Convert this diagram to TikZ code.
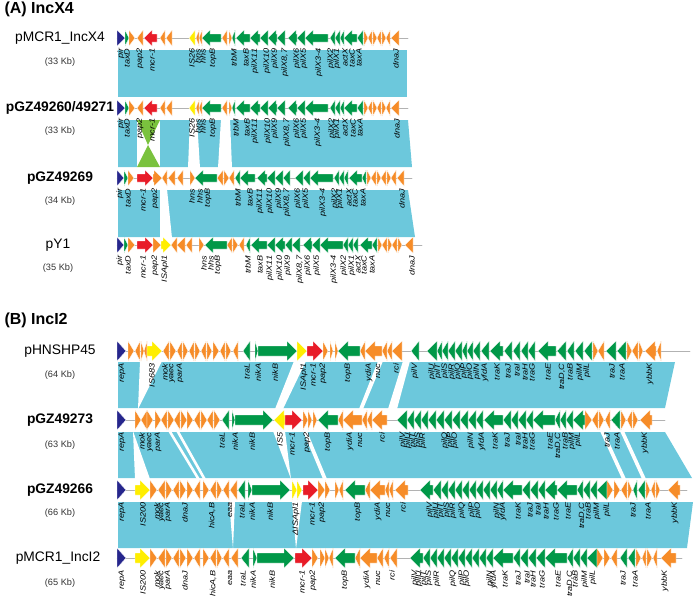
\documentclass[tikz,border=0pt]{standalone}
\usepackage{fontspec}
\setmainfont{Liberation Sans}
\usetikzlibrary{calc}
\definecolor{blu}{RGB}{108,200,220}
\definecolor{org}{RGB}{246,140,40}
\definecolor{grn}{RGB}{0,152,72}
\definecolor{rd}{RGB}{232,28,40}
\definecolor{nvy}{RGB}{38,38,140}
\definecolor{ylw}{RGB}{255,238,0}
\definecolor{lgr}{RGB}{122,194,62}
\tikzset{
    sect/.style={font=\fontsize{16}{19}\selectfont\bfseries},
    pname/.style={font=\fontsize{13.8}{16}\selectfont},
    pbold/.style={font=\fontsize{13.8}{16}\selectfont\bfseries},
    psize/.style={font=\fontsize{9.2}{11}\selectfont, text=black!80},
    glab/.style={font=\fontsize{7.6}{7.6}\selectfont\itshape, rotate=90, anchor=east, inner sep=0.4pt},
    trk/.style={draw=black!30, line width=0.5pt},
    gene/.style={draw=white, line width=0.3pt}
}
% gene arrow: y, from, to, colour, half height
\newcommand\gene[5]{%
    \pgfmathsetmacro\gd{(#3>#2) ? 1 : -1}%
    \pgfmathsetmacro\gh{min(abs(#3-#2),#5)}%
    \pgfmathsetmacro\gk{#3-\gd*\gh}%
    \path[gene, fill=#4] (#2,#1-#5/2) -- (\gk,#1-#5/2) -- (\gk,#1-#5) -- (#3,#1)
        -- (\gk,#1+#5) -- (\gk,#1+#5/2) -- (#2,#1+#5/2) -- cycle;%
}

\begin{document}
\begin{tikzpicture}[x=1pt,y=-1pt,line cap=round,line join=round]
\useasboundingbox (0,0) rectangle (696,598);

% --- section titles ---
    \node[sect, anchor=west] (tA) at (1,9) {(A) IncX4};
    \node[sect, anchor=west] (tB) at (1,320) {(B) IncI2};

% --- homology bands (A) ---
    \fill[blu] (118,50) -- (407,50) -- (407,97) -- (118,97) -- cycle;
    \fill[blu] (118,120) -- (408,120) -- (412,167) -- (118,167) -- cycle;
    \fill[white] (137,119) rectangle (160,168);
    \fill[lgr] (137,120) -- (160,120) -- (148,145) -- cycle;
    \fill[lgr] (137,167) -- (160,167) -- (148,145) -- cycle;
    \fill[white] (190,119) -- (197,119) -- (200,168) -- (188,168) -- cycle;
    \fill[white] (221,119) -- (230,119) -- (232,168) -- (218,168) -- cycle;
    \fill[blu] (118,190) -- (408,190) -- (415,237) -- (118,237) -- cycle;
    \fill[white] (160,189) -- (167,189) -- (172,238) -- (160,238) -- cycle;

% --- homology bands (B) ---
    \fill[blu] (118,362) -- (675,362) -- (665,408) -- (118,408) -- cycle;
    \fill[white] (140,361) -- (162,361) -- (138,409) -- cycle;
    \fill[white] (294,361) -- (306,361) -- (283,409) -- (275,409) -- cycle;
    \fill[white] (378,361) -- (383,361) -- (363,409) -- (359,409) -- cycle;
    \fill[white] (403,361) -- (410,361) -- (397,409) -- (388,409) -- cycle;
    \fill[blu] (118,432) -- (665,432) -- (692,478) -- (118,478) -- cycle;
    \fill[white] (133,431) -- (150,479) -- (135,479) -- cycle;
    \fill[white] (168,431) -- (171,431) -- (200,479) -- (197,479) -- cycle;
    \fill[white] (176,431) -- (179,431) -- (206,479) -- (203,479) -- cycle;
    \fill[white] (273,431) -- (285,431) -- (291,479) -- cycle;
    \fill[white] (303,431) -- (307,431) -- (327,479) -- (323,479) -- cycle;
    \fill[white] (600,431) -- (604,431) -- (626,479) -- (622,479) -- cycle;
    \fill[white] (620,431) -- (624,431) -- (646,479) -- (642,479) -- cycle;
    \fill[blu] (118,502) -- (693,502) -- (687,548) -- (118,548) -- cycle;
    \fill[white] (229,501) -- (235,501) -- (233,549) -- cycle;
    \fill[white] (292,501) -- (302,501) -- (296,549) -- cycle;

% --- pMCR1_IncX4 ---
    \def\ty{38}
    \node[pname] (nA1) at (60,\ty) {pMCR1\_IncX4};
    \node[psize] (sA1) at (60,\ty+24) {(33 Kb)};
    \draw[trk] (117,\ty) -- (408,\ty);
    \foreach \a/\b/\c in {117/125/nvy,125/129/grn,129/135/org,143/137/org,157/144/rd,165/160/org,172/166/org,
        195/189/ylw,199/196/org,202/199/org,221/202/grn,227/222/org,229/232/org,235/232/grn,250/236/grn,
        260/250/grn,268/260/grn,277/268/grn,285/277/grn,297/288/grn,305/297/grn,328/305/grn,335/330/grn,
        340/335/grn,344/340/grn,357/344/grn,363/357/grn,364/368/org,372/368/org,373/377/org,381/377/org,
        382/386/org,390/386/org,399/391/org}
        {\gene{\ty}{\a}{\b}{\c}{8}}
    \foreach \x/\t [count=\i] in {121/pir,127/taxD,140/pap2,152/mcr-1,192/IS26,198/hns,203/hhs,213/topB,
        234/trbM,246/taxB,255/pilX11,267/pilX10,275/pilX9,285/{pilX8,7},297/pilX6,304/pilX5,319/pilX3-4,
        331/pilX2,337/pilX1,345/actX,352/taxC,359/taxA,396/dnaJ}
        \node[glab] (lA1-\i) at (\x,\ty+10) {\scalebox{1.2}[1]{\t}};

% --- pGZ49260/49271 ---
    \def\ty{108}
    \node[pbold] (nA2) at (60,\ty) {pGZ49260/49271};
    \node[psize] (sA2) at (60,\ty+23) {(33 Kb)};
    \draw[trk] (117,\ty) -- (408,\ty);
    \foreach \a/\b/\c in {117/125/nvy,125/129/grn,129/135/org,143/137/org,157/144/rd,165/160/org,172/166/org,
        195/189/ylw,199/196/org,202/199/org,221/202/grn,227/222/org,229/232/org,235/232/grn,250/236/grn,
        260/250/grn,268/260/grn,277/268/grn,285/277/grn,297/288/grn,305/297/grn,328/305/grn,335/330/grn,
        340/335/grn,344/340/grn,357/344/grn,363/357/grn,364/368/org,372/368/org,373/377/org,381/377/org,
        382/386/org,390/386/org,399/391/org}
        {\gene{\ty}{\a}{\b}{\c}{8}}
    \foreach \x/\t [count=\i] in {121/pir,127/taxD,140/pap2,152/mcr-1,192/IS26,198/hns,203/hhs,213/topB,
        236/trbM,247/taxB,255/pilX11,268/pilX10,275/pilX9,287/{pilX8,7},297/pilX6,304/pilX5,318/pilX3-4,
        332/pilX2,337/pilX1,345/actX,353/taxC,360/taxA,397/dnaJ}
        \node[glab] (lA2-\i) at (\x,\ty+10) {\scalebox{1.2}[1]{\t}};

% --- pGZ49269 ---
    \def\ty{178}
    \node[pbold] (nA3) at (60,\ty) {pGZ49269};
    \node[psize] (sA3) at (60,\ty+23) {(34 Kb)};
    \draw[trk] (117,\ty) -- (412,\ty);
    \foreach \a/\b/\c in {117/124/nvy,124/128/grn,128/134/org,137/153/rd,153/162/org,167/162/org,175/168/org,
        183/177/org,190/195/org,217/195/grn,223/217/org,224/229/org,234/229/org,240/235/grn,255/240/grn,
        267/257/grn,275/267/grn,283/275/grn,290/283/grn,303/295/grn,310/303/grn,333/310/grn,339/334/grn,
        344/339/grn,348/344/grn,362/349/grn,366/362/grn,367/371/org,376/371/org,377/381/org,386/381/org,
        387/391/org,396/391/org,404/397/org}
        {\gene{\ty}{\a}{\b}{\c}{8}}
    \foreach \x/\t [count=\i] in {120/pir,128/taxD,143/mcr-1,155/pap2,192/hns,200/hhs,208/topB,238/trbM,
        250/taxB,260/pilX11,270/pilX10,279/pilX9,287/{pilX8,7},298/pilX6,306/pilX5,323/pilX3-4,335/pilX2,
        340/pilX1,349/actX,355/taxC,363/taxA,402/dnaJ}
        \node[glab] (lA3-\i) at (\x,\ty+10) {\scalebox{1.2}[1]{\t}};

% --- pY1 ---
    \def\ty{245}
    \node[pname] (nA4) at (58,\ty) {pY1};
    \node[psize] (sA4) at (58,\ty+23) {(35 Kb)};
    \draw[trk] (117,\ty) -- (422,\ty);
    \foreach \a/\b/\c in {117/124/nvy,124/128/grn,128/135/org,137/153/rd,153/161/org,161/171/ylw,177/171/org,
        185/177/org,192/186/org,199/204/org,227/205/grn,232/227/org,233/238/org,244/239/org,250/246/grn,
        267/251/grn,275/267/grn,285/275/grn,292/285/grn,300/292/grn,312/303/grn,320/312/grn,343/320/grn,
        348/343/grn,353/348/grn,358/353/grn,372/360/grn,377/372/grn,378/382/org,387/382/org,388/392/org,
        397/392/org,398/402/org,413/405/org}
        {\gene{\ty}{\a}{\b}{\c}{8}}
    \foreach \x/\t [count=\i] in {120/pir,128/taxD,143/mcr-1,155/pap2,165/ISApl1,204/hns,211/hhs,218/topB,
        248/trbM,260/taxB,270/pilX11,280/pilX10,288/pilX9,300/{pilX8,7},308/pilX6,317/pilX5,334/pilX3-4,
        344/pilX2,352/pilX1,358/actX,364/taxC,372/taxA,412/dnaJ}
        \node[glab] (lA4-\i) at (\x,\ty+10) {\scalebox{1.2}[1]{\t}};

% --- pHNSHP45 ---
    \def\ty{351}
    \node[pname] (nB1) at (60,\ty) {pHNSHP45};
    \node[psize] (sB1) at (60,\ty+24) {(64 Kb)};
    \draw[trk] (117,\ty) -- (690,\ty);
    \foreach \a/\b/\c in {117/126/nvy,128/134/org,140/135/org,141/144/org,147/144/org,147/162/ylw,
        169/163/org,170/176/org,182/177/org,183/188/org,194/189/org,195/200/org,206/201/org,207/212/org,
        213/219/org,225/220/org,226/231/org,238/233/org,250/243/grn,255/258/grn,258/297/grn,297/307/ylw,
        307/323/rd,323/328/org,330/333/org,335/338/org,360/338/grn,365/360/org,382/365/org,387/382/org,
        392/387/org,402/392/org,419/411/grn,437/427/grn,442/437/grn,448/442/grn,455/448/grn,462/455/grn,
        467/462/grn,473/467/grn,480/473/grn,489/481/grn,503/490/grn,512/504/grn,520/513/grn,528/521/grn,
        535/528/grn,556/538/grn,566/557/grn,574/567/grn,583/575/grn,592/584/grn,593/598/org,604/598/org,
        616/606/grn,626/617/grn,627/632/org,638/632/org,639/643/org,656/645/org,661/657/org}
        {\gene{\ty}{\a}{\b}{\c}{10}}
    \foreach \x/\t [count=\i] in {122/repA,152/IS683,165/mok,172/yaec,180/parA,247/traL,258/nikA,275/nikB,
        304/ISApl1,313/mcr-1,323/pap2,348/topB,369/ydiA,378/nuc,396/rci,415/pilV,432/pilU,438/pilT,445/pilS,
        452/pilR,458/pilQ,464/pilP,470/pilO,477/pilN,485/yfdA,497/traK,508/traJ,517/traI,525/traH,532/traG,
        548/traE,562/{traD,C},570/traB,580/pilM,587/pilL,612/traJ,622/traA,650/ybbK}
        \node[glab] (lB1-\i) at (\x,\ty+12) {\scalebox{1.2}[1]{\t}};

% --- pGZ49273 ---
    \def\ty{420}
    \node[pbold] (nB2) at (60,\ty) {pGZ49273};
    \node[psize] (sB2) at (60,\ty+25) {(63 Kb)};
    \draw[trk] (117,\ty) -- (665,\ty);
    \foreach \a/\b/\c in {117/126/nvy,135/141/org,147/141/org,147/153/org,155/161/org,167/161/org,
        168/174/org,180/174/org,181/187/org,187/193/org,200/194/org,201/207/org,213/207/org,214/220/org,
        229/222/grn,232/235/grn,235/273/grn,285/274/ylw,285/302/rd,303/308/org,308/312/org,313/317/org,
        338/318/grn,343/338/org,362/343/org,367/362/org,372/367/org,387/372/org,407/397/grn,414/407/grn,
        421/414/grn,428/421/grn,436/428/grn,444/436/grn,452/444/grn,460/452/grn,468/460/grn,476/468/grn,
        483/476/grn,503/484/grn,511/503/grn,518/511/grn,526/518/grn,533/526/grn,555/533/grn,560/555/grn,
        566/560/grn,573/566/grn,585/573/grn,585/592/org,598/592/org,599/604/org,610/605/org,620/611/grn,
        621/626/org,632/627/org,633/638/org,652/640/org}
        {\gene{\ty}{\a}{\b}{\c}{10}}
    \foreach \x/\t [count=\i] in {122/repA,142/mok,150/yaec,158/parA,222/traL,235/nikA,252/nikB,280/IS5,
        292/mcr-1,307/pap2,328/topB,350/ydiA,360/nuc,382/rci,403/pilV,408/pilU,413/pilT,418/pilS,423/pilR,
        445/pilQ,450/pilP,455/pilO,471/pilN,482/yfdA,495/traK,507/traJ,518/traI,525/traH,532/traG,550/traE,
        558/{traD,C},565/traB,572/pilM,578/pilL,607/traJ,617/traA,645/ybbK}
        \node[glab] (lB2-\i) at (\x,\ty+12) {\scalebox{1.2}[1]{\t}};

% --- pGZ49266 ---
    \def\ty{490}
    \node[pbold] (nB3) at (60,\ty) {pGZ49266};
    \node[psize] (sB3) at (60,\ty+23) {(66 Kb)};
    \draw[trk] (117,\ty) -- (687,\ty);
    \foreach \a/\b/\c in {117/126/nvy,135/150/ylw,150/157/org,165/158/org,166/172/org,179/173/org,
        180/186/org,187/193/org,200/194/org,203/209/org,216/210/org,217/222/org,229/223/org,237/230/org,
        245/238/grn,248/252/grn,252/290/grn,292/297/ylw,297/302/ylw,303/318/rd,318/325/org,325/330/org,
        335/339/org,343/339/org,365/345/grn,370/365/org,385/370/org,389/385/org,393/389/org,408/395/org,
        433/420/grn,441/433/grn,448/441/grn,455/448/grn,462/455/grn,469/462/grn,476/469/grn,483/476/grn,
        490/483/grn,497/490/grn,503/497/grn,522/503/grn,530/522/grn,538/530/grn,545/538/grn,557/545/grn,
        577/557/grn,583/577/grn,590/583/grn,597/590/grn,607/597/grn,607/613/org,614/620/org,627/621/org,
        628/632/org,637/633/grn,645/638/grn,646/650/org,655/651/org,656/660/org,680/668/org}
        {\gene{\ty}{\a}{\b}{\c}{10}}
    \foreach \x/\t [count=\i] in {122/repA,143/IS200,157/mok,162/yaec,168/parA,185/dnaJ,212/{hicA,B},
        230/eaa,242/traL,252/nikA,270/nikB,296/ΔISApl1,312/mcr-1,322/pap2,358/topB,378/ydiA,388/nuc,403/rci,
        430/pilV,436/pilU,441/pilT,447/pilS,453/pilR,462/pilQ,472/pilP,478/pilO,497/pilN,503/yfdA,518/traK,
        530/traJ,538/traI,546/traH,556/traG,568/traE,582/{traD,C},588/traB,597/pilM,607/pilL,633/traJ,
        648/traA,675/ybbK}
        \node[glab] (lB3-\i) at (\x,\ty+12) {\scalebox{1.2}[1]{\t}};

% --- pMCR1_IncI2 ---
    \def\ty{558}
    \node[pname] (nB4) at (58,\ty) {pMCR1\_IncI2};
    \node[psize] (sB4) at (60,\ty+25) {(65 Kb)};
    \draw[trk] (117,\ty) -- (682,\ty);
    \foreach \a/\b/\c in {117/126/nvy,135/150/ylw,150/157/org,165/158/org,166/172/org,179/173/org,
        180/186/org,187/193/org,200/194/org,203/209/org,216/210/org,217/222/org,229/223/org,238/231/org,
        249/241/grn,253/257/grn,257/294/grn,295/312/rd,312/318/org,320/325/org,325/329/org,333/329/org,
        355/335/grn,360/355/org,377/360/org,383/377/org,389/384/org,397/390/org,423/410/grn,430/423/grn,
        437/430/grn,444/437/grn,451/444/grn,458/451/grn,465/458/grn,472/465/grn,479/472/grn,486/479/grn,
        493/486/grn,513/493/grn,520/513/grn,528/520/grn,536/528/grn,545/536/grn,567/545/grn,573/567/grn,
        580/573/grn,587/580/grn,597/587/grn,597/603/org,604/610/org,617/611/org,627/620/grn,635/628/grn,
        636/641/org,646/642/org,647/652/org,657/653/org,676/661/org}
        {\gene{\ty}{\a}{\b}{\c}{10}}
    \foreach \x/\t [count=\i] in {122/repA,143/IS200,157/mok,162/yaec,168/parA,185/dnaJ,213/{hicA,B},
        230/eaa,243/traL,253/nikA,272/nikB,302/mcr-1,313/pap2,345/topB,367/ydiA,378/nuc,392/rci,415/pilV,
        419/pilU,424/pilT,429/pilS,437/pilR,453/pilQ,462/pilP,467/pilO,490/pilN,494/yfdA,505/traK,518/traJ,
        527/traI,533/traH,542/traG,558/traE,570/{traD,C},575/traB,585/pilM,593/pilL,623/traJ,635/traA,
        665/ybbK}
        \node[glab] (lB4-\i) at (\x,\ty+12) {\scalebox{1.2}[1]{\t}};

\end{tikzpicture}
\end{document}
